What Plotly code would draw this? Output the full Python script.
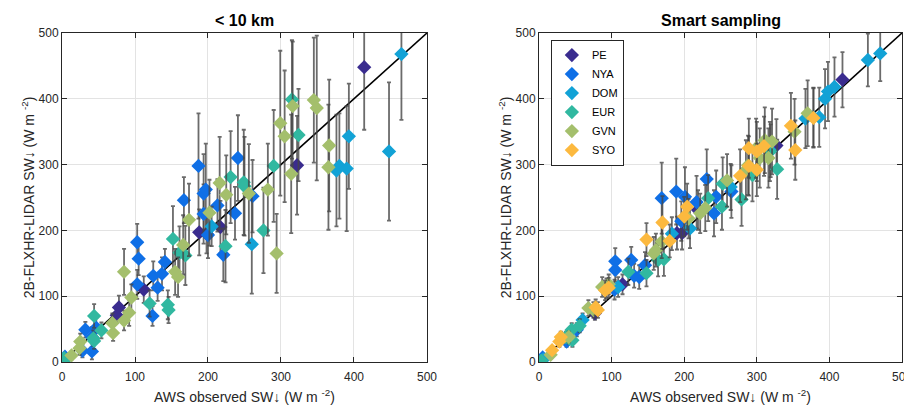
import plotly.graph_objects as go
from plotly.subplots import make_subplots

sites = ["PE", "NYA", "DOM", "EUR", "GVN", "SYO"]
colors = {"PE": "#3a2c8f", "NYA": "#0f6fe6", "DOM": "#12a2d6",
          "EUR": "#31b8a0", "GVN": "#a4bf6c", "SYO": "#fcb93f"}

panel_titles = ["< 10 km", "Smart sampling"]
one_to_one = [0, 500]
ticks = [0, 100, 200, 300, 400, 500]

# ---- Left panel: < 10 km ----
L_PE_x = [75, 78, 112, 188, 198, 217, 322, 414]
L_PE_y = [71, 83, 110, 197, 195, 205, 299, 448]
L_PE_e = [12, 18, 20, 35, 30, 40, 75, 95]

L_NYA_x = [4, 28, 41, 41, 47, 32, 124, 131, 103, 125, 137, 141, 105, 103, 200, 221, 194, 213, 237, 167, 194, 197, 261, 187, 241]
L_NYA_y = [8, 17, 16, 38, 52, 49, 70, 113, 118, 131, 134, 152, 157, 182, 193, 163, 225, 238, 226, 246, 256, 262, 252, 298, 310]
L_NYA_e = [5, 10, 12, 15, 15, 12, 15, 20, 22, 22, 25, 20, 25, 28, 35, 40, 45, 40, 40, 35, 60, 70, 55, 80, 65]

L_DOM_x = [205, 260, 376, 380, 390, 393, 448, 465]
L_DOM_y = [206, 179, 291, 298, 294, 343, 320, 468]
L_DOM_e = [30, 75, 85, 80, 95, 80, 105, 100]

L_EUR_x = [3, 4, 43, 44, 54, 44, 120, 146, 145, 152, 161, 169, 224, 276, 231, 249, 250, 290, 324, 315]
L_EUR_y = [6, 3, 36, 32, 48, 70, 89, 79, 87, 187, 166, 162, 176, 200, 281, 273, 267, 298, 345, 399]
L_EUR_e = [5, 5, 12, 12, 12, 18, 20, 20, 22, 50, 40, 45, 55, 65, 70, 80, 75, 85, 70, 90]

L_GVN_x = [13, 24, 25, 70, 69, 85, 92, 95, 85, 159, 155, 166, 174, 202, 216, 225, 256, 282, 294, 314, 365, 366, 299, 305, 316, 345, 349]
L_GVN_y = [10, 21, 31, 44, 59, 63, 75, 98, 137, 129, 137, 178, 216, 227, 272, 254, 256, 262, 165, 286, 296, 329, 363, 343, 389, 398, 386]
L_GVN_e = [6, 10, 12, 12, 15, 15, 20, 20, 35, 30, 35, 45, 55, 50, 70, 60, 75, 70, 60, 90, 95, 100, 110, 100, 98, 95, 110]

L_SYO_x = []
L_SYO_y = []
L_SYO_e = []

# ---- Right panel: Smart sampling ----
R_PE_x = [77, 115, 190, 197, 219, 327, 418]
R_PE_y = [74, 118, 196, 196, 231, 329, 429]
R_PE_e = [10, 15, 25, 25, 30, 40, 42]

R_NYA_x = [5, 38, 52, 104, 105, 105, 127, 131, 138, 146, 169, 189, 196, 201, 217, 231, 241, 244, 265]
R_NYA_y = [7, 31, 49, 110, 153, 140, 155, 131, 129, 147, 249, 259, 214, 251, 243, 278, 226, 251, 259]
R_NYA_e = [5, 8, 10, 15, 20, 18, 20, 18, 18, 20, 54, 50, 30, 45, 40, 45, 35, 40, 40]

R_DOM_x = [6, 60, 109, 183, 208, 264, 319, 367, 378, 386, 394, 398, 407, 453, 470]
R_DOM_y = [4, 64, 114, 195, 203, 266, 321, 370, 372, 372, 400, 411, 418, 459, 469]
R_DOM_e = [4, 10, 15, 25, 30, 35, 40, 45, 45, 45, 45, 45, 45, 40, 42]

R_EUR_x = [3, 37, 42, 45, 46, 56, 123, 148, 164, 172, 233, 252, 253, 279, 294, 318, 328]
R_EUR_y = [2, 38, 35, 49, 33, 55, 137, 135, 155, 156, 249, 236, 271, 247, 284, 320, 293]
R_EUR_e = [4, 8, 8, 10, 10, 10, 20, 20, 25, 25, 35, 35, 40, 40, 40, 45, 45]

R_GVN_x = [16, 41, 68, 75, 87, 93, 96, 158, 161, 169, 206, 222, 229, 259, 285, 288, 299, 304, 311, 316, 321, 352, 370]
R_GVN_y = [11, 38, 82, 79, 114, 112, 118, 165, 170, 183, 218, 226, 234, 276, 292, 299, 325, 310, 337, 310, 335, 350, 378]
R_GVN_e = [5, 8, 12, 12, 15, 15, 15, 25, 25, 25, 30, 30, 35, 40, 45, 45, 45, 45, 50, 45, 50, 50, 50]

R_SYO_x = [18, 28, 30, 78, 81, 91, 96, 148, 170, 180, 200, 204, 277, 289, 289, 300, 300, 310, 347, 353, 378]
R_SYO_y = [18, 31, 38, 83, 79, 109, 113, 186, 212, 184, 221, 236, 283, 298, 325, 320, 292, 328, 359, 322, 371]
R_SYO_e = [5, 8, 8, 12, 12, 15, 15, 25, 40, 25, 30, 35, 40, 45, 45, 45, 40, 45, 50, 45, 45]

left = {
    "PE": (L_PE_x, L_PE_y, L_PE_e), "NYA": (L_NYA_x, L_NYA_y, L_NYA_e),
    "DOM": (L_DOM_x, L_DOM_y, L_DOM_e), "EUR": (L_EUR_x, L_EUR_y, L_EUR_e),
    "GVN": (L_GVN_x, L_GVN_y, L_GVN_e), "SYO": (L_SYO_x, L_SYO_y, L_SYO_e),
}
right = {
    "PE": (R_PE_x, R_PE_y, R_PE_e), "NYA": (R_NYA_x, R_NYA_y, R_NYA_e),
    "DOM": (R_DOM_x, R_DOM_y, R_DOM_e), "EUR": (R_EUR_x, R_EUR_y, R_EUR_e),
    "GVN": (R_GVN_x, R_GVN_y, R_GVN_e), "SYO": (R_SYO_x, R_SYO_y, R_SYO_e),
}

FONT = "Liberation Sans, Arial, Helvetica, sans-serif"
AXC = "#262626"

fig = make_subplots(rows=1, cols=2, horizontal_spacing=0.1333)

for col, data in ((1, left), (2, right)):
    fig.add_trace(go.Scatter(x=one_to_one, y=one_to_one, mode="lines",
                             line=dict(color="black", width=1.6),
                             showlegend=False, hoverinfo="skip"), row=1, col=col)
    for s in sites:
        x, y, e = data[s]
        fig.add_trace(go.Scatter(
            x=x, y=y, mode="markers", name=s,
            marker=dict(symbol="diamond", size=11, color=colors[s],
                        line=dict(width=0)),
            error_y=dict(type="data", array=e, visible=True,
                         color="rgba(70,70,70,0.8)", thickness=1.8, width=2),
            showlegend=(col == 2), legendgroup=s,
        ), row=1, col=col)

axis_common = dict(range=[0, 500], tickvals=ticks, ticktext=[str(t) for t in ticks],
                   showgrid=True, gridcolor="#e3e3e3",
                   gridwidth=1, showline=True, linecolor=AXC, linewidth=1, mirror="ticks",
                   ticks="inside", ticklen=5, tickcolor=AXC, zeroline=False, automargin=False,
                   tickfont=dict(family=FONT, size=12, color=AXC))

xtitle = "AWS observed SW\u2193 (W m <sup>-2</sup>)"
ytitle = "2B-FLXHR-LIDAR SW\u2193 (W m <sup>-2</sup>)"

for i in (1, 2):
    fig.update_xaxes(axis_common, row=1, col=i, ticklabelstandoff=4,
                     title=dict(text=xtitle, font=dict(family=FONT, size=14, color=AXC), standoff=8))
    fig.update_yaxes(axis_common, row=1, col=i,
                     title=dict(text=ytitle, font=dict(family=FONT, size=14, color=AXC), standoff=0))

fig.update_xaxes(domain=[0, 0.4345], row=1, col=1)
fig.update_xaxes(domain=[0.5679, 1.0], row=1, col=2)
fig.update_xaxes(ticklabeloverflow="allow")
fig.update_yaxes(ticklabeloverflow="allow")

annos = []
for t, xc in zip(panel_titles, [0.4345 / 2, (0.5679 + 1.0) / 2]):
    annos.append(dict(text="<b>" + t + "</b>", x=xc, y=1.0, xref="paper", yref="paper",
                      xanchor="center", yanchor="bottom", yshift=2, showarrow=False,
                      font=dict(family=FONT, size=16, color="black")))

fig.update_layout(
    width=904, height=400,
    margin=dict(l=54, r=10, t=25, b=46),
    plot_bgcolor="white", paper_bgcolor="white",
    annotations=annos,
    font=dict(family=FONT, color=AXC),
    legend=dict(x=0.582, y=0.98, xanchor="left", yanchor="top",
                bgcolor="white", bordercolor=AXC, borderwidth=1,
                font=dict(family=FONT, size=11, color="black"),
                itemwidth=30, tracegroupgap=0),
)

fig.write_html("out.html")
